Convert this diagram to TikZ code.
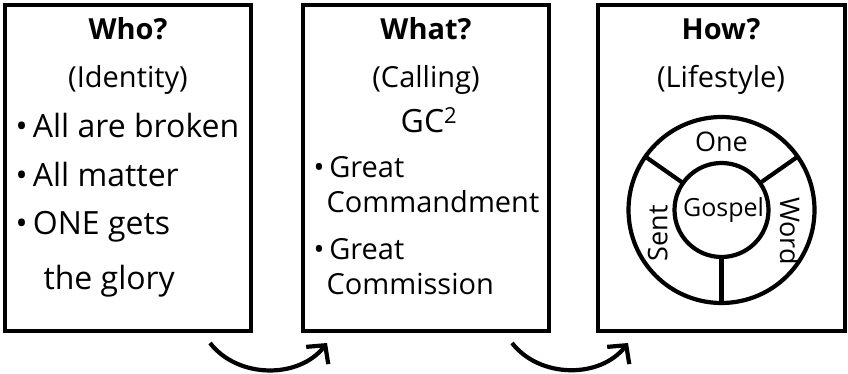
\documentclass[tikz,border=0pt]{standalone}
\usepackage{fontspec}
\setmainfont{Open Sans}
\usetikzlibrary{arrows.meta}
\tikzset{
  panel/.style={line width=4.2pt},
  heading/.style={anchor=base,font=\fontsize{29}{34}\selectfont\bfseries},
  subhead/.style={anchor=base,font=\fontsize{29}{34}\selectfont},
  item/.style={anchor=base west,font=\fontsize{29}{34}\selectfont},
  bigitem/.style={item,font=\fontsize{32}{38}\selectfont},
  wheeltext/.style={font=\fontsize{27}{32}\selectfont},
  flow/.style={line width=4.2pt,-{Straight Barb[length=13pt,width=28pt]},bend right=52},
}
\begin{document}
\begin{tikzpicture}[x=1pt,y=1pt]
\useasboundingbox (0,0) rectangle (848,374);
\draw[panel] (5,43) rectangle (251,369);
\draw[panel] (303,43) rectangle (549,369);
\draw[panel] (598,43) rectangle (845,369);
% Who?
\node[heading] (who) at (128,334) {Who?};
\node[subhead] (identity) at (128,286) {(Identity)};
\node[bigitem] (broken) at (12,236) {\textbullet\,All are broken};
\node[bigitem] (matter) at (12,187) {\textbullet\,All matter};
\node[bigitem] (onegets) at (12,139) {\textbullet\,ONE gets};
\node[bigitem] (glory) at (40,84) {the glory};
% What?
\node[heading] (what) at (426,334) {What?};
\node[subhead] (calling) at (426,286) {(Calling)};
\node[subhead,font=\fontsize{32}{38}\selectfont] (gc) at (429,241) {GC\textsuperscript{\fontsize{22}{24}\selectfont 2}};
\node[item] (great1) at (310,196) {\textbullet\,Great};
\node[item] (commandment) at (323,161) {Commandment};
\node[item] (great2) at (310,114) {\textbullet\,Great};
\node[item] (commission) at (323,79) {Commission};
% How?
\node[heading] (how) at (721,334) {How?};
\node[subhead] (lifestyle) at (721,286) {(Lifestyle)};
\begin{scope}[shift={(721.5,164)}]
\draw[panel] (0,0) circle (93);
\draw[panel] (0,0) circle (47);
\foreach \a in {35,145,270}
  \draw[panel] (\a:47) -- (\a:93);
\node[wheeltext] (one) at (90:68) {One};
\node[wheeltext,font=\fontsize{25}{30}\selectfont] (gospel) at (2,0) {Gospel};
\node[wheeltext,rotate=-90] (word) at (-17:72) {Word};
\node[wheeltext,rotate=90] (sent) at (200:68) {Sent};
\end{scope}
% arrows
\coordinate (w1) at (210,31);
\coordinate (w2) at (327,31);
\coordinate (w3) at (512,31);
\coordinate (w4) at (628,31);
\draw[flow] (w1) to (w2);
\draw[flow] (w3) to (w4);
\end{tikzpicture}
\end{document}
